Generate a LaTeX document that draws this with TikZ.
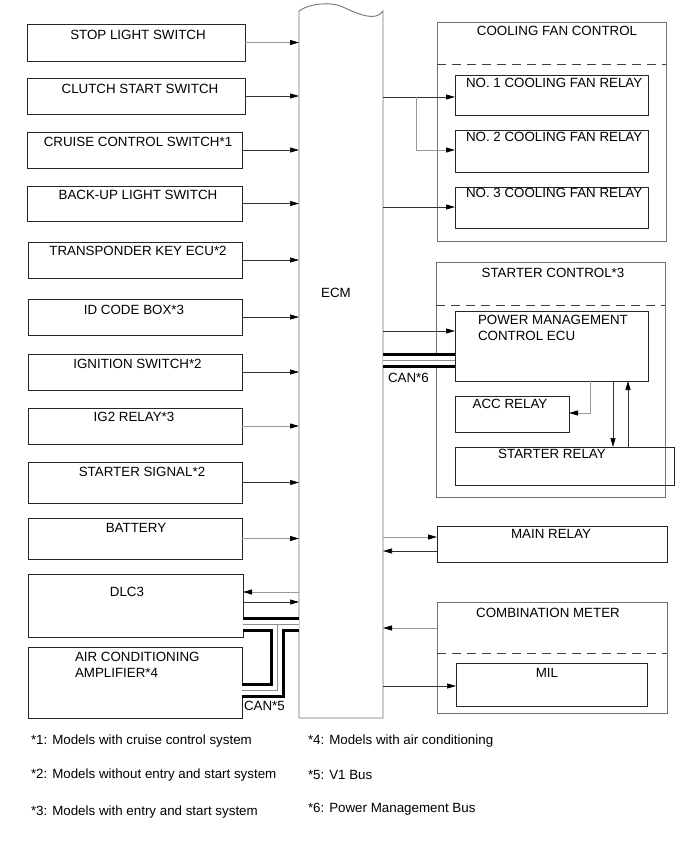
\documentclass[tikz,border=0pt]{standalone}
\usepackage{fontspec}
\setmainfont{Liberation Sans}
\usetikzlibrary{arrows.meta}
\newcommand\mybox[6]{\node[#6, anchor=north west, minimum width={#4bp-#2bp}, minimum height={#5bp-#3bp}] (#1) at (#2,#3) {};}
\begin{document}
\begin{tikzpicture}[x=1bp,y=-1bp,
  every node/.style={font=\fontsize{13.4}{16}\selectfont, inner sep=0pt, outer sep=0pt},
  box/.style={draw=black!85, line width=0.8bp},
  cont/.style={draw=black!55, line width=0.8bp},
  lbl/.style={text height=9.6bp, text depth=0bp, anchor=center},
  lblw/.style={text height=9.6bp, text depth=0bp, anchor=west},
  arr/.style={draw=black!80, line width=0.7bp, -{Triangle[length=9bp,width=5bp,color=black]}},
  garr/.style={arr, draw=black!40, line width=0.9bp},
  dash line/.style={draw=black!75, line width=0.7bp, dash pattern=on 9bp off 6bp},
  canout/.style={draw=black, line width=15bp},
  canin/.style={draw=white, line width=9bp},
  canmid/.style={draw=black!45, line width=0.6bp}]
\useasboundingbox (0,0) rectangle (691,855);

% ECM
\node[anchor=north west, minimum width=84bp, minimum height=707bp] (ecm) at (299,11) {};
\draw[draw=black!55, line width=0.9bp] (ecm.north west) .. controls (312,2) and (335,2) .. (345,8)
  .. controls (358,14) and (376,22) .. (ecm.north east) -- (ecm.south east) -- (ecm.south west) -- cycle;
\node[lbl] (ecmt) at (336,292.5) {ECM};

% left boxes
\mybox{stop}{27}{24}{245}{61}{box}
\mybox{clutch}{27}{78}{245}{114}{box}
\mybox{cruise}{27}{132}{242}{168}{box}
\mybox{backup}{27}{186}{242}{221}{box}
\mybox{trans}{28}{242}{242}{278}{box}
\mybox{idbox}{28}{299}{242}{335}{box}
\mybox{ign}{28}{354}{242}{390}{box}
\mybox{igtwo}{28}{408}{242}{444}{box}
\mybox{stsig}{28}{462}{242}{503}{box}
\mybox{batt}{28}{518}{242}{559}{box}
\mybox{dlc}{28}{574}{243}{637}{box}
\mybox{acamp}{28}{647}{242}{718}{box}

\node[lbl] (stopt) at (138,35) {STOP LIGHT SWITCH};
\node[lbl] (clutcht) at (140,89) {CLUTCH START SWITCH};
\node[lbl] (cruiset) at (138,142) {CRUISE CONTROL SWITCH*1};
\node[lbl] (backupt) at (138,195) {BACK-UP LIGHT SWITCH};
\node[lbl] (transt) at (138,251) {TRANSPONDER KEY ECU*2};
\node[lbl] (idboxt) at (134,310) {ID CODE BOX*3};
\node[lbl] (ignt) at (137.5,364) {IGNITION SWITCH*2};
\node[lbl] (igtwot) at (134,417) {IG2 RELAY*3};
\node[lbl] (stsigt) at (142,472) {STARTER SIGNAL*2};
\node[lbl] (battt) at (136,528) {BATTERY};
\node[lbl] (dlct) at (127,592) {DLC3};
\node[anchor=north west, align=left] (acampt) at (75,652.2) {AIR CONDITIONING\\AMPLIFIER*4};

% left arrows
\draw[garr] (stop.east) -- (stop.east -| ecm.west);
\draw[arr] (clutch.east) -- (clutch.east -| ecm.west);
\draw[arr] (cruise.east) -- (cruise.east -| ecm.west);
\draw[arr] (backup.east) -- (backup.east -| ecm.west);
\draw[arr] (trans.east) -- (trans.east -| ecm.west);
\draw[arr] (idbox.east) -- (idbox.east -| ecm.west);
\draw[arr] (ign.east) -- (ign.east -| ecm.west);
\draw[garr] (igtwo.east) -- (igtwo.east -| ecm.west);
\draw[arr] (stsig.east) -- (stsig.east -| ecm.west);
\draw[garr] (batt.east) -- (batt.east -| ecm.west);
\coordinate (ya) at (0,592);
\coordinate (yb) at (0,602);
\draw[garr] (ecm.west |- ya) -- (dlc.east |- ya);
\draw[arr] (dlc.east |- yb) -- (ecm.west |- yb);

% CAN*5
\coordinate (cana) at (243,624.5);
\coordinate (canj) at (277,624.5);
\coordinate (canb) at (0,690.5);
\draw[canout] (cana) -- (ecm.west |- cana);
\draw[canout] (canj) |- (acamp.east |- canb);
\draw[canin] (cana) -- (ecm.west |- cana);
\draw[canin] (canj) |- (acamp.east |- canb);
\draw[canmid] (cana) -- (ecm.west |- cana);
\draw[canmid] (canj) |- (acamp.east |- canb);
\node[lblw] (can5) at (244,706) {CAN*5};

% cooling fan control
\mybox{fan}{437}{22}{666}{241}{cont}
\draw[dash line] (437,64) -- (666,64);
\node[lbl] (fant) at (557,31) {COOLING FAN CONTROL};
\mybox{nor1}{455}{75}{648}{115}{box}
\mybox{nor2}{455}{130}{648}{172}{box}
\mybox{nor3}{455}{187}{648}{228}{box}
\node[lblw] (nor1t) at (466,83) {NO. 1 COOLING FAN RELAY};
\node[lblw] (nor2t) at (466,137) {NO. 2 COOLING FAN RELAY};
\node[lblw] (nor3t) at (466,193) {NO. 3 COOLING FAN RELAY};
\coordinate (y1) at (0,97);
\coordinate (y2) at (0,150);
\coordinate (y3) at (0,207);
\coordinate (br) at (416,97);
\draw[arr] (ecm.east |- y1) -- (nor1.west |- y1);
\draw[garr] (br) |- (nor2.west |- y2);
\draw[arr] (ecm.east |- y3) -- (nor3.west |- y3);

% starter control
\mybox{stc}{436}{262}{665}{497}{cont}
\draw[dash line] (436,305) -- (665,305);
\node[lbl] (stct) at (553,273) {STARTER CONTROL*3};
\mybox{pmc}{455}{311}{648}{381}{box}
\node[anchor=north west, align=left] (pmct) at (478,315.2) {POWER MANAGEMENT\\CONTROL ECU};
\mybox{acc}{455}{396}{569}{432}{box}
\node[lbl] (acct) at (510,404) {ACC RELAY};
\mybox{strel}{455}{447}{674}{485}{box}
\node[lbl] (strelt) at (552,454) {STARTER RELAY};
\coordinate (y4) at (0,331);
\draw[arr] (ecm.east |- y4) -- (pmc.west |- y4);
\coordinate (y5) at (0,413);
\coordinate (xa) at (590,0);
\coordinate (xb) at (613,0);
\coordinate (xc) at (628,0);
\draw[garr] (pmc.south -| xa) |- (acc.east |- y5);
\draw[arr] (pmc.south -| xb) -- (strel.north -| xb);
\draw[arr] (strel.north -| xc) -- (pmc.south -| xc);

% CAN*6
\coordinate (y6) at (0,360);
\draw[canout] (ecm.east |- y6) -- (pmc.west |- y6);
\draw[canin] (ecm.east |- y6) -- (pmc.west |- y6);
\draw[canmid] (ecm.east |- y6) -- (pmc.west |- y6);
\node[lblw] (can6) at (388,378) {CAN*6};

% main relay
\mybox{mainr}{437}{526}{667}{562}{box}
\node[lbl] (mainrt) at (551,534) {MAIN RELAY};
\coordinate (y7) at (0,537);
\coordinate (y8) at (0,551);
\draw[garr] (ecm.east |- y7) -- (mainr.west |- y7);
\draw[arr] (mainr.west |- y8) -- (ecm.east |- y8);

% combination meter
\mybox{comb}{437}{602}{667}{713}{cont}
\draw[dash line] (437,653) -- (667,653);
\node[lbl] (combt) at (548,613) {COMBINATION METER};
\mybox{mil}{456}{663}{647}{706}{box}
\node[lbl] (milt) at (547,673) {MIL};
\coordinate (y9) at (0,628);
\coordinate (y10) at (0,686);
\draw[garr] (comb.west |- y9) -- (ecm.east |- y9);
\draw[arr] (ecm.east |- y10) -- (mil.west |- y10);

% footnotes
\node[lblw] (f1) at (31,740) {*1: Models with cruise control system};
\node[lblw] (f2) at (31,774) {*2: Models without entry and start system};
\node[lblw] (f3) at (31,811) {*3: Models with entry and start system};
\node[lblw] (f4) at (308,740) {*4: Models with air conditioning};
\node[lblw] (f5) at (308,775) {*5: V1 Bus};
\node[lblw] (f6) at (308,808) {*6: Power Management Bus};
\end{tikzpicture}
\end{document}
